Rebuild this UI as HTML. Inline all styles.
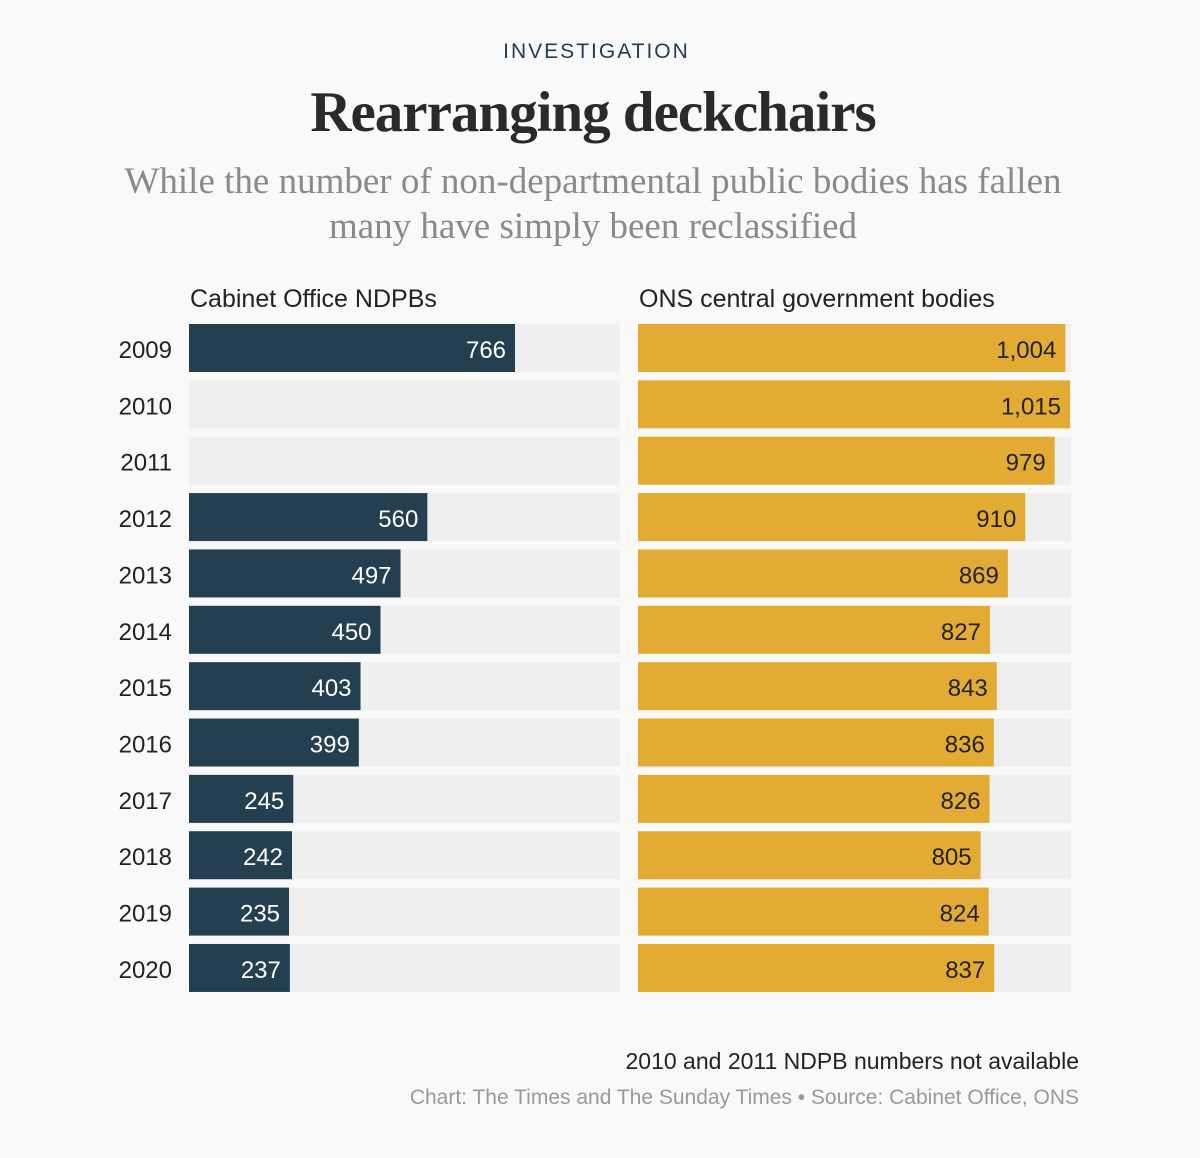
<!DOCTYPE html>
<html><head><meta charset="utf-8"><style>
body{margin:0;background:#f9f9f9;width:1200px;height:1158px;position:relative;overflow:hidden;font-family:"Liberation Sans",sans-serif;}
.t{position:absolute;white-space:nowrap;}
</style></head><body>
<div class="t" style="left:0;width:1193px;text-align:center;top:40px;font-size:21px;letter-spacing:2px;color:#1f3b55;">INVESTIGATION</div>
<div class="t" style="left:0;width:1186px;text-align:center;top:80px;font-family:'Liberation Serif',serif;font-weight:bold;font-size:57px;color:#2a2a2a;letter-spacing:-1px;">Rearranging deckchairs</div>
<div class="t" style="left:0;width:1186px;text-align:center;top:159px;font-family:'Liberation Serif',serif;font-size:37px;line-height:45px;color:#8a8a8a;">While the number of non-departmental public bodies has fallen<br>many have simply been reclassified</div>
<div class="t" style="left:190px;top:285px;font-size:25px;color:#222;">Cabinet Office NDPBs</div>
<div class="t" style="left:639px;top:285px;font-size:25px;color:#222;">ONS central government bodies</div>
<svg id="chart" width="1200" height="1158" style="position:absolute;left:0;top:0"></svg>
<div class="t" style="right:121px;top:1048px;font-size:23px;color:#222;">2010 and 2011 NDPB numbers not available</div>
<div class="t" style="right:121px;top:1086px;font-size:21px;color:#999;">Chart: The Times and The Sunday Times • Source: Cabinet Office, ONS</div>
<script>
const years=["2009","2010","2011","2012","2013","2014","2015","2016","2017","2018","2019","2020"];
const ndpb=[766,null,null,560,497,450,403,399,245,242,235,237];
const ons=[1004,1015,979,910,869,827,843,836,826,805,824,837];
const maxV=1015;
const svg=document.getElementById('chart');
const NS="http://www.w3.org/2000/svg";
function y(i){return 324+i*56.36;}
function xs(v){return v/maxV*432;}
function mk(t,a){const e=document.createElementNS(NS,t);for(const k in a)e.setAttribute(k,a[k]);svg.appendChild(e);return e;}
function fmt(v){return v.toLocaleString('en-US');}
years.forEach((yr,i)=>{
  const yy=y(i);
  const lab=mk('text',{x:172,y:yy+34,'text-anchor':'end','font-size':24,fill:'#222','font-family':'Liberation Sans'});
  lab.textContent=yr;
  
  
  const tl=mk('rect',{x:189,y:yy,width:431,height:48,fill:'#efefef'});
  
  
  const tr=mk('rect',{x:638,y:yy,width:433,height:48,fill:'#efefef'});
  
  
  if(ndpb[i]!=null){
    const w=xs(ndpb[i]);
    const b=mk('rect',{x:189,y:yy,width:w,height:48,fill:'#243f4f'});
    
    
    const t=mk('text',{x:189+w-9,y:yy+34,'text-anchor':'end','font-size':24,fill:'#fff','font-family':'Liberation Sans'});
    t.textContent=fmt(ndpb[i]);
    
    
  }
  const w2=xs(ons[i]);
  const b2=mk('rect',{x:638,y:yy,width:w2,height:48,fill:'#e3ab34'});
  
  
  const t2=mk('text',{x:638+w2-9,y:yy+34,'text-anchor':'end','font-size':24,fill:'#222','font-family':'Liberation Sans'});
  t2.textContent=fmt(ons[i]);
  
  
});
</script>
</body></html>
